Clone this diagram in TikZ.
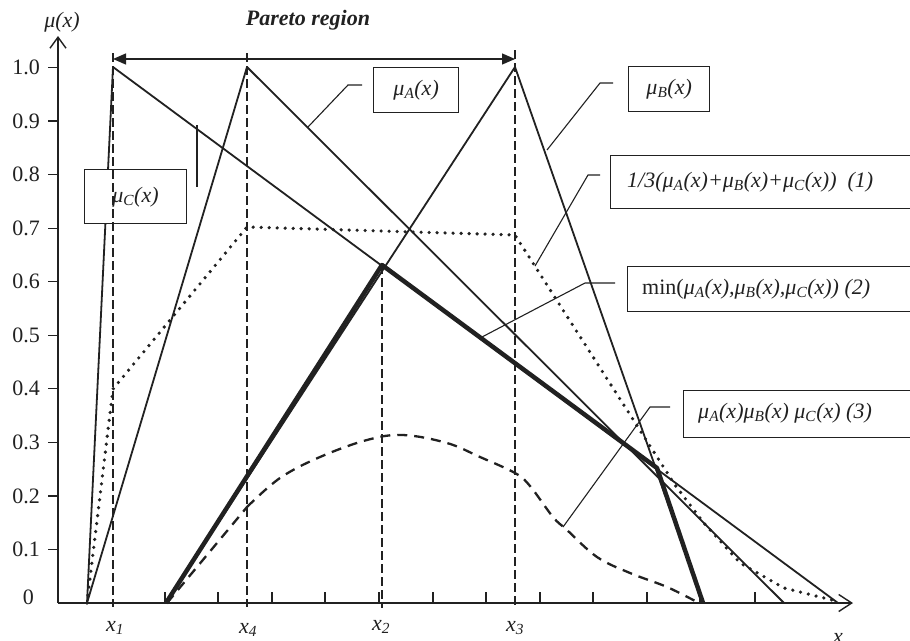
\documentclass[tikz,border=0pt]{standalone}
\usepackage{fontspec}
\setmainfont{Liberation Serif}
\usetikzlibrary{arrows.meta}
\definecolor{ink}{gray}{0.13}
\tikzset{
  fnline/.style={draw=ink, line width=1.8pt, line join=round},
  minline/.style={draw=ink, line width=4.5pt, line join=round},
  avgline/.style={draw=ink, line width=3.6pt, dash pattern=on 0pt off 8pt, line cap=round, line join=round},
  prodline/.style={draw=ink, line width=2.3pt, dash pattern=on 10pt off 7pt},
  guide/.style={draw=ink, line width=1.2pt, dash pattern=on 9pt off 4pt},
  leader/.style={draw=ink, line width=1.1pt},
  lbox/.style={draw=ink, line width=1.3pt, fill=white, inner sep=0pt},
  lab/.style={font=\fontsize{22}{26}\selectfont\itshape, inner sep=0pt, text=ink},
  num/.style={font=\fontsize{22}{26}\selectfont, inner sep=0pt, text=ink},
  axtick/.style={draw=ink, line width=1.2pt},
  axline/.style={draw=ink, line width=1.4pt},
}
\begin{document}
\begin{tikzpicture}[x=1pt, y=-1pt]
\useasboundingbox (0,0) rectangle (910,640);
\fill[white] (0,0) rectangle (910,640);

% key coordinates
\coordinate (O) at (58,603);
\coordinate (ytop) at (58,36);
\coordinate (xend) at (853,603);

% axes
\draw[axline, -{Straight Barb[length=11pt, width=16pt, line width=1.4pt]}] (O) -- (ytop);
\draw[axline, -{Straight Barb[length=13pt, width=17pt, line width=1.4pt]}] (O) -- (xend);
\node[lab] (mulab) at (62,22) {μ(x)};

% y ticks and labels
\foreach \v/\t in {1/0.1,2/0.2,3/0.3,4/0.4,5/0.5,6/0.6,7/0.7,8/0.8,9/0.9,10/1.0}{
  \draw[axtick] (48,{603-53.55*\v}) -- (58,{603-53.55*\v});
  \node[num, anchor=east] (yl\v) at (40,{603-53.55*\v}) {\t};
}
\node[num, anchor=east] (yl0) at (34,597) {0};

% x ticks
\foreach \px in {165,218,272,325,379,433,486,540,593,647,700,755}{
  \draw[axtick] (\px,592) -- (\px,603);
}

% triangular membership functions
\draw[fnline] (87,603) -- (113,67) -- (838,603);   % mu_C
\draw[fnline] (87,603) -- (247,67) -- (784,603);   % mu_A
\draw[fnline] (166,603) -- (515,67) -- (703,603);  % mu_B

% (1) average, dotted
\draw[avgline] (87,603) -- (113,389) -- (247,227) -- (515,235) -- (675,485) -- (703,522) -- (740,563) -- (784,588) -- (836,601);

% (3) product, dashed
\draw[prodline] (167,603) -- (247,507)
  plot[smooth, tension=0.6] coordinates {(247,507) (280,478) (320,457) (367,440) (403,435) (447,443) (480,457) (515,473) (530,486) (553,517) (567,530) (597,557) (630,573) (667,587) (697,602)};

% (2) min, thick
\draw[minline] (166,603) -- (382,265) -- (657,468) -- (703,603);

% mu_C box (over the curve)
\node[lbox, anchor=north west, minimum width=102pt, minimum height=54pt] (bC) at (84,169) {};

% guide lines
\draw[guide] (113,53) -- (113,607);
\draw[guide] (247,53) -- (247,607);
\draw[guide] (382,265) -- (382,608);
\draw[guide] (515,50) -- (515,607);

\node[lab] (tC) at (135.5,197) {μ\textsubscript{C}(x)};

% Pareto region
\draw[draw=ink, line width=1.3pt, {Triangle[length=13pt, width=11pt]}-{Triangle[length=13pt, width=11pt]}] (113,59) -- (515,59);
\node[lab, font=\fontsize{22}{26}\selectfont\bfseries\itshape] (pareto) at (308,20) {Pareto region};

% x labels
\node[lab] (lx1) at (115,628) {x\textsubscript{1}};
\node[lab] (lx4) at (248,630) {x\textsubscript{4}};
\node[lab] (lx2) at (381,627) {x\textsubscript{2}};
\node[lab] (lx3) at (515,628) {x\textsubscript{3}};
\node[lab] (lx) at (838,638) {x};

% legend boxes
\node[lbox, anchor=north west, minimum width=85pt, minimum height=45pt] (bA) at (373,67) {};
\node[lab] (tA) at (bA.center) {μ\textsubscript{A}(x)};
\node[lbox, anchor=north west, minimum width=81pt, minimum height=45pt] (bB) at (628,66) {};
\node[lab] (tB) at (bB.center) {μ\textsubscript{B}(x)};
\node[lbox, anchor=north west, minimum width=320pt, minimum height=53pt] (b1) at (610,155) {};
\node[lab, anchor=west] (t1) at (627,182) {1/3(μ\textsubscript{A}(x)+μ\textsubscript{B}(x)+μ\textsubscript{C}(x))\ \ (1)};
\node[lbox, anchor=north west, minimum width=300pt, minimum height=45pt] (b2) at (627,266) {};
\node[lab, anchor=west] (t2) at (642,289) {\upshape min(\itshape μ\textsubscript{A}(x),μ\textsubscript{B}(x),μ\textsubscript{C}(x)) (2)};
\node[lbox, anchor=north west, minimum width=250pt, minimum height=47pt] (b3) at (683,390) {};
\node[lab, anchor=west] (t3) at (698,413) {μ\textsubscript{A}(x)μ\textsubscript{B}(x) μ\textsubscript{C}(x) (3)};

% leaders
\coordinate (pA) at (308,127);
\coordinate (kA) at (348,85);
\coordinate (eA) at (362,85);
\draw[leader] (pA) -- (kA) -- (eA);
\coordinate (pB) at (547,150);
\coordinate (kB) at (600,83);
\coordinate (eB) at (613,83);
\draw[leader] (pB) -- (kB) -- (eB);
\coordinate (p1) at (535,266);
\coordinate (k1) at (588,175);
\coordinate (e1) at (600,175);
\draw[leader] (p1) -- (k1) -- (e1);
\coordinate (p2) at (482,337);
\coordinate (k2) at (585,283);
\coordinate (e2) at (615,283);
\draw[leader] (p2) -- (k2) -- (e2);
\coordinate (p3) at (563,527);
\coordinate (k3) at (650,407);
\coordinate (e3) at (670,407);
\draw[leader] (p3) -- (k3) -- (e3);
\coordinate (pC) at (197,125);
\coordinate (eC) at (197,187);
\draw[leader] (pC) -- (eC);
\end{tikzpicture}
\end{document}
